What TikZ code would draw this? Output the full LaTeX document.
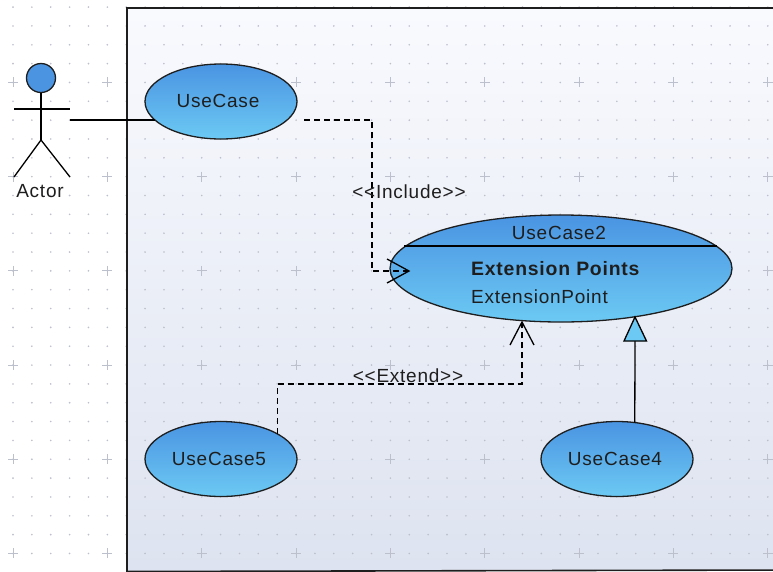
\documentclass[tikz,border=0pt]{standalone}
\usepackage{fontspec}
\setmainfont{Liberation Sans}[LetterSpace=4]
\definecolor{ucTop}{HTML}{4A94E2}
\definecolor{ucBottom}{HTML}{6CC9F3}
\definecolor{ink}{HTML}{1E1E1E}
\definecolor{gridgray}{HTML}{BCC0CC}
\tikzset{
  usecase/.style={ellipse,draw=ink,line width=1.3pt,inner sep=0pt,outer sep=0pt,top color=ucTop,bottom color=ucBottom,minimum width=152pt,minimum height=75pt},
  lbl/.style={inner sep=0pt,text=ink,font=\fontsize{19}{22}\selectfont},
  conn/.style={draw=black,line width=1.3pt},
  dash line/.style={conn,dash pattern=on 6pt off 4pt},
  griddot/.style={fill=gridgray},
  gridplus/.style={draw=gridgray,line width=1pt},
}
\usetikzlibrary{shapes.geometric}
\begin{document}
\begin{tikzpicture}[x=1pt,y=-1pt]
\useasboundingbox (0,0) rectangle (773,571);
\path[clip] (0,0) rectangle (773,571);
\fill[white] (0,0) rectangle (773,571);
\shade[top color={rgb,255:red,249;green,250;blue,254},bottom color={rgb,255:red,221;green,227;blue,240}] (127,8) rectangle (790,570);
\foreach \i in {0,...,40}{\foreach \j in {0,...,29}{
  \fill[griddot] ({13+18.87*\i},{7.1+18.84*\j}) circle (0.9);
}}
\foreach \i in {0,5,...,40}{\foreach \j in {4,9,...,29}{
  \draw[gridplus] ({13+18.87*\i-5},{7.1+18.84*\j}) -- ++(10,0) ({13+18.87*\i},{7.1+18.84*\j-5}) -- ++(0,10);
}}
\draw[ink,line width=1.6pt] (127,571.5) -- (127,8) -- (790,8) -- (790,570) -- cycle;

% use cases
\node[usecase] (uc1) at (221,101.5) {};
\node[usecase,minimum width=342pt,minimum height=107pt] (uc2) at (561,268.5) {};
\node[usecase] (uc5) at (221,459) {};
\node[usecase] (uc4) at (617,459) {};
\node[lbl] (uc1name) at (218,101) {UseCase};
\node[lbl] (uc5name) at (219,458.5) {UseCase5};
\node[lbl] (uc4name) at (615,458.5) {UseCase4};
\node[lbl] (uc2name) at (559,233) {UseCase2};
\node[lbl,anchor=west,font=\fontsize{19.4}{22}\selectfont\bfseries] (uc2ext) at (471,269) {Extension Points};
\node[lbl,anchor=west] (uc2point) at (471,297) {ExtensionPoint};
\coordinate (divL) at (404,246);
\coordinate (divR) at (717,246);
\draw[conn] (divL) -- (divR);

% actor
\node[circle,draw=ink,line width=1.3pt,fill=ucTop,minimum size=29pt,inner sep=0pt,outer sep=0pt] (head) at (41,78) {};
\coordinate (hip) at (41,140);
\coordinate (armL) at (14,109);
\coordinate (armR) at (70,109);
\coordinate (footL) at (14,177);
\coordinate (footR) at (70,177);
\draw[conn] (head.south) -- (hip);
\draw[conn] (armL) -- (armR);
\draw[conn] (footL) -- (hip) -- (footR);
\node[lbl] (actor) at (40,191) {Actor};

% association
\coordinate (assocStart) at (70,120);
\coordinate (assocEnd) at (155,120);
\draw[conn] (assocStart) -- (assocEnd);

% include
\coordinate (incStart) at (304,120);
\coordinate (incBendA) at (372,120);
\coordinate (incBendB) at (372,271);
\coordinate (incTip) at (409,271);
\draw[dash line] (incStart) -- (incBendA) -- (incBendB) -- (incTip);
\draw[conn] (incTip) ++(-22,-12) -- (incTip) -- ++(-22,12);
\node[lbl] (inc) at (409,192) {<{}<Include>{}>};

% extend
\coordinate (extBend) at (522,384);
\coordinate (extTip) at (522,322);
\draw[dash line] (uc5.24.6) |- (extBend) -- (extTip);
\draw[conn] (extTip) ++(-12,23) -- (extTip) -- ++(12,23);
\node[lbl] (ext) at (408,376) {<{}<Extend>{}>};

% generalisation
\coordinate (genTip) at (635,317);
\coordinate (genBase) at (635,341);
\draw[conn] (uc4.64) -- (genBase);
\draw[conn,fill=ucBottom] (genTip) -- (624,341) -- (646.5,341) -- cycle;
\end{tikzpicture}
\end{document}
